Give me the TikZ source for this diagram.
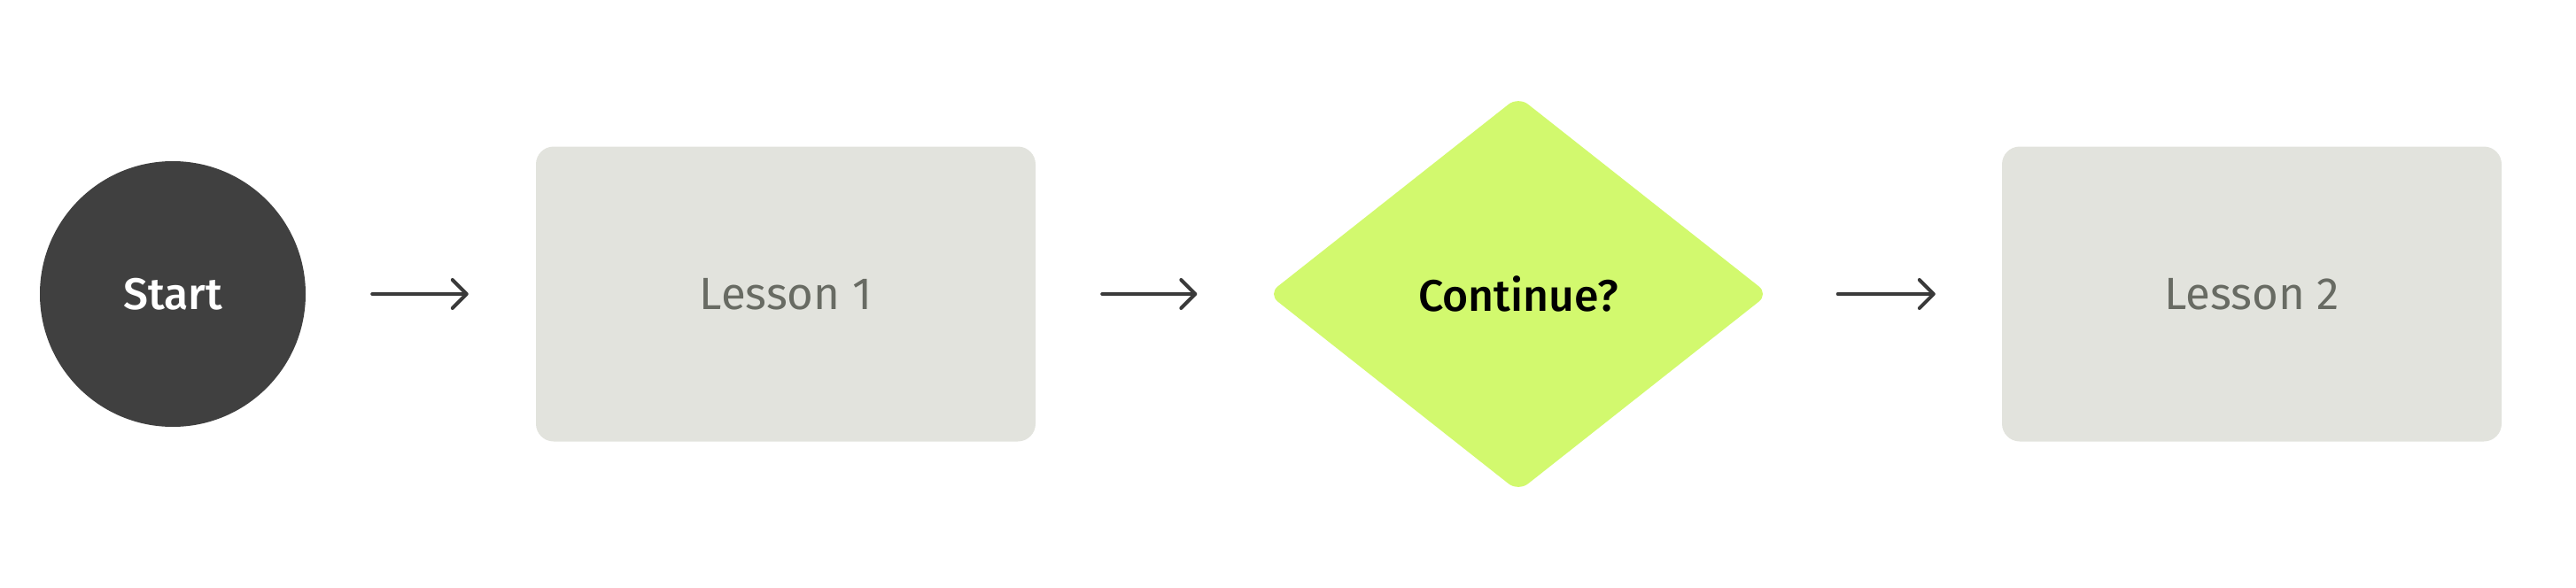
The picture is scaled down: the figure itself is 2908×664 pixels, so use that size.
\documentclass[tikz,border=0pt]{standalone}
\usepackage{fontspec}
\setmainfont{Fira Sans}
\newfontfamily\medfont{Fira Sans Medium}
\usetikzlibrary{shapes.geometric,arrows.meta}
\definecolor{darkc}{HTML}{404040}
\definecolor{boxc}{HTML}{E2E3DD}
\definecolor{boxtext}{HTML}{686B63}
\definecolor{limec}{HTML}{D2F96E}
\definecolor{arrc}{HTML}{3A3A3A}
\tikzset{
  lessonbox/.style={rectangle, rounded corners=20pt, fill=boxc, minimum width=564pt, minimum height=333pt, inner sep=0pt, text=boxtext, font=\fontsize{51pt}{60pt}\selectfont},
  startnode/.style={circle, fill=darkc, minimum size=300pt, inner sep=0pt, text=white, font=\medfont\fontsize{50pt}{60pt}\selectfont},
  decision/.style={diamond, fill=limec, rounded corners=14pt, minimum width=565pt, minimum height=446pt, inner sep=0pt, text=black, font=\medfont\fontsize{50pt}{60pt}\selectfont},
  flow/.style={draw=arrc, line width=4pt, line cap=round, -{Straight Barb[length=16pt,width=32pt,line cap=round,line join=round]}}
}
\begin{document}
\begin{tikzpicture}[x=1pt,y=-1pt]
\useasboundingbox (0,0) rectangle (2908,664);
\node[startnode] (start) at (195,332) {Start};
\node[lessonbox] (l1) at (887,332) {Lesson 1};
\node[decision] (dec) at (1714,332) {Continue?};
\node[lessonbox] (l2) at (2542,332) {Lesson 2};
\draw[flow] ([xshift=75pt]start.east) -- ([xshift=-76pt]l1.west);
\draw[flow] ([xshift=75pt]l1.east) -- ([xshift=-80pt]dec.west);
\draw[flow] ([xshift=78pt]dec.east) -- ([xshift=-75pt]l2.west);
\end{tikzpicture}
\end{document}
